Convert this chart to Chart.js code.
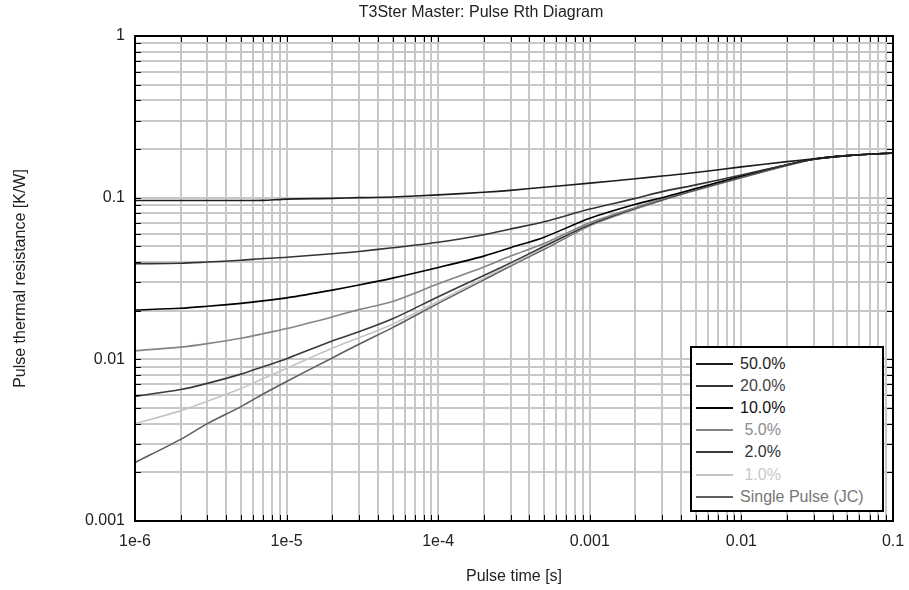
<!DOCTYPE html>
<html>
<head>
<meta charset="utf-8">
<title>T3Ster Master: Pulse Rth Diagram</title>
<script src="https://cdn.jsdelivr.net/npm/chart.js@4.4.1/dist/chart.umd.min.js"></script>
<style>
  body { margin: 0; background: #fff; }
  #wrap { position: relative; width: 909px; height: 590px; }
  #legend {
    position: absolute; left: 690px; top: 346px; width: 190px; height: 162px;
    border: 2px solid #000; background: #fff;
    font-family: Arial, "Liberation Sans", sans-serif; font-size: 16px;
  }
  #legend .row { position: absolute; left: 0; height: 22px; line-height: 22px; white-space: pre; }
  #legend .swatch { position: absolute; left: 4px; top: 10px; width: 37px; height: 0; border-top: 2px solid; }
  #legend .txt { position: absolute; left: 48px; top: 0; }
</style>
</head>
<body>
<div id="wrap">
  <canvas id="myChart"></canvas>
  <div id="legend"></div>
</div>
<script>
// pulse time [s]
const pulseTimes = [1e-6, 2e-6, 3e-6, 5e-6, 7e-6, 1e-5, 2e-5, 3e-5, 5e-5, 1e-4, 2e-4, 3e-4, 5e-4,
                    1e-3, 2e-3, 3e-3, 5e-3, 1e-2, 2e-2, 3e-2, 5e-2, 1e-1];
// pulse thermal resistance [K/W] per duty cycle
const rth50 = [0.096, 0.096, 0.096, 0.096, 0.0962, 0.098, 0.099, 0.100, 0.101, 0.104, 0.108, 0.111, 0.116,
               0.123, 0.131, 0.136, 0.143, 0.155, 0.167, 0.174, 0.182, 0.189];
const rth20 = [0.039, 0.0393, 0.040, 0.041, 0.042, 0.0428, 0.045, 0.0465, 0.049, 0.053, 0.059, 0.064, 0.071,
               0.085, 0.099, 0.109, 0.120, 0.138, 0.160, 0.173, 0.182, 0.189];
const rth10 = [0.0202, 0.0207, 0.0213, 0.0222, 0.0230, 0.0240, 0.0268, 0.0288, 0.0318, 0.037, 0.0435, 0.049, 0.057,
               0.0745, 0.091, 0.100, 0.114, 0.136, 0.160, 0.173, 0.182, 0.189];
const rth5 = [0.0113, 0.0119, 0.0125, 0.0135, 0.0144, 0.0155, 0.0183, 0.0203, 0.0228, 0.0293, 0.0372, 0.0435, 0.052,
              0.070, 0.087, 0.098, 0.113, 0.135, 0.159, 0.173, 0.182, 0.189];
const rth2 = [0.0059, 0.0065, 0.0071, 0.0081, 0.0090, 0.0101, 0.0130, 0.0148, 0.0178, 0.0244, 0.0330, 0.0395, 0.050,
              0.068, 0.086, 0.097, 0.112, 0.134, 0.159, 0.173, 0.182, 0.189];
const rth1 = [0.0040, 0.0048, 0.0055, 0.0066, 0.0076, 0.0088, 0.0117, 0.0136, 0.0165, 0.0228, 0.0318, 0.0385, 0.049,
              0.0675, 0.0855, 0.097, 0.112, 0.134, 0.159, 0.173, 0.182, 0.189];
const rthSingle = [0.0023, 0.0032, 0.0040, 0.0051, 0.0061, 0.0073, 0.0102, 0.0124, 0.0157, 0.0222, 0.0310, 0.0378, 0.048,
                   0.067, 0.085, 0.0965, 0.111, 0.133, 0.158, 0.173, 0.182, 0.189];

const seriesNames = ['50.0%', '20.0%', '10.0%', ' 5.0%', ' 2.0%', ' 1.0%', 'Single Pulse (JC)'];
const seriesValues = [rth50, rth20, rth10, rth5, rth2, rth1, rthSingle];
const seriesColors = ['#1c1c1c', '#333333', '#000000', '#858585', '#3a3a3a', '#c4c4c4', '#5e5e5e'];
const legendColors = ['#222222', '#444444', '#111111', '#8c8c8c', '#333333', '#c8c8c8', '#777777'];

const xTickValues = [1e-6, 1e-5, 1e-4, 1e-3, 1e-2, 1e-1];
const xTickLabels = ['1e-6', '1e-5', '1e-4', '0.001', '0.01', '0.1'];
const yTickValues = [0.001, 0.01, 0.1, 1];
const yTickLabels = ['0.001', '0.01', '0.1', '1'];

const chartTitle = 'T3Ster Master: Pulse Rth Diagram';
const FONT = 'Arial, "Liberation Sans", sans-serif';

// 1..9 per decade, for the grid
const logGrid = (lo, hi) => {
    const out = [];
    for (let e = lo; e < hi; e++) {
        for (let m = 1; m < 10; m++) out.push(m * Math.pow(10, e));
    }
    out.push(Math.pow(10, hi));
    return out;
};

const labelFor = (values, labels) => v => {
    const i = values.findIndex(t => Math.abs(Math.log10(t) - Math.log10(v)) < 1e-6);
    return i >= 0 ? labels[i] : '';
};

// black frame with small inward ticks on all four sides, plus the title
const framePlugin = {
    id: 'frame',
    afterDraw(chart) {
        const {ctx, chartArea: a, scales} = chart;
        ctx.save();
        ctx.strokeStyle = '#000';
        ctx.lineWidth = 1;
        ctx.beginPath();
        scales.x.ticks.forEach(t => {
            const px = Math.round(scales.x.getPixelForValue(t.value)) + 0.5;
            ctx.moveTo(px, a.top); ctx.lineTo(px, a.top + 6);
            ctx.moveTo(px, a.bottom); ctx.lineTo(px, a.bottom - 6);
        });
        scales.y.ticks.forEach(t => {
            const py = Math.round(scales.y.getPixelForValue(t.value)) + 0.5;
            ctx.moveTo(a.left, py); ctx.lineTo(a.left + 6, py);
            ctx.moveTo(a.right, py); ctx.lineTo(a.right - 6, py);
        });
        ctx.stroke();
        ctx.lineWidth = 2;
        ctx.strokeRect(a.left, a.top, a.right - a.left, a.bottom - a.top);

        ctx.fillStyle = '#222';
        ctx.font = '16px ' + FONT;
        ctx.textAlign = 'center';
        ctx.textBaseline = 'middle';
        ctx.fillText(chartTitle, 481, 13);
        ctx.restore();
    }
};

const ctx = document.querySelector('#myChart').getContext('2d');

new Chart(ctx, {
    type: 'line',
    data: {
        datasets: seriesValues.map((vals, i) => ({
            label: seriesNames[i],
            data: pulseTimes.map((t, j) => ({x: t, y: vals[j]})),
            borderColor: seriesColors[i],
            backgroundColor: seriesColors[i],
            borderWidth: 1.6,
            pointRadius: 0,
            tension: 0.3,
            fill: false
        }))
    },
    options: {
        responsive: true,
        maintainAspectRatio: false,
        animation: false,
        layout: { padding: { left: 0, right: 0, top: 36, bottom: 0 } },
        plugins: {
            legend: { display: false },
            tooltip: { enabled: false },
            title: { display: false }
        },
        scales: {
            x: {
                type: 'logarithmic',
                min: 1e-6,
                max: 0.1,
                afterBuildTicks: s => { s.ticks = logGrid(-6, -1).map(v => ({value: v})); },
                afterFit: s => { s.height = 69; s.paddingLeft = 0; s.paddingRight = 16; },
                grid: { color: '#c8c8c8', lineWidth: 2, drawTicks: false },
                border: { display: false },
                ticks: {
                    autoSkip: false, maxRotation: 0, padding: 11, color: '#222',
                    font: { family: FONT, size: 16 },
                    callback: labelFor(xTickValues, xTickLabels)
                },
                title: {
                    display: true, text: 'Pulse time [s]', color: '#222',
                    font: { family: FONT, size: 16 }, padding: { top: 3.4, bottom: 3.4 }
                }
            },
            y: {
                type: 'logarithmic',
                min: 0.001,
                max: 1,
                afterBuildTicks: s => { s.ticks = logGrid(-3, 0).map(v => ({value: v})); },
                afterFit: s => { s.width = 135; },
                grid: { color: '#c8c8c8', lineWidth: 2, drawTicks: false },
                border: { display: false },
                ticks: {
                    autoSkip: false, padding: 10, color: '#222',
                    font: { family: FONT, size: 16 },
                    callback: labelFor(yTickValues, yTickLabels)
                },
                title: {
                    display: true, text: 'Pulse thermal resistance [K/W]', color: '#222',
                    font: { family: FONT, size: 16 }, padding: { top: 11.4, bottom: 11.4 }
                }
            }
        }
    },
    plugins: [framePlugin]
});

// legend box inside the plot
const legendBox = document.querySelector('#legend');
seriesNames.forEach((name, i) => {
    const row = document.createElement('div');
    row.className = 'row';
    row.style.top = (5 + i * 22.1) + 'px';
    row.style.width = '100%';
    row.innerHTML = '<span class="swatch"></span><span class="txt"></span>';
    row.querySelector('.swatch').style.borderColor = seriesColors[i];
    const txt = row.querySelector('.txt');
    txt.textContent = name;
    txt.style.color = legendColors[i];
    legendBox.appendChild(row);
});
</script>
</body>
</html>
